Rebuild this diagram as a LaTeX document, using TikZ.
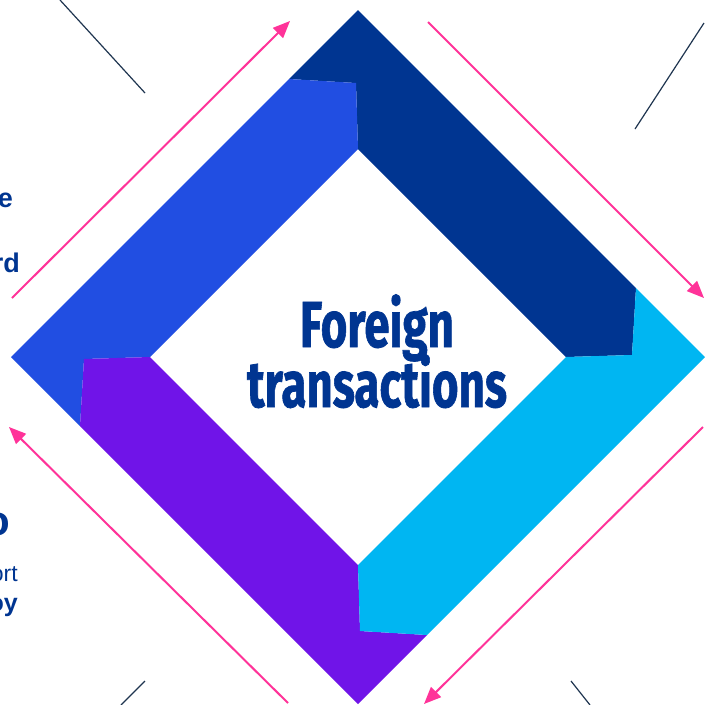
\documentclass[tikz,border=0pt]{standalone}
\usepackage{fontspec}
\setmainfont{Liberation Sans}
\newfontfamily\titlefont{Fira Sans}[BoldFeatures={FakeBold=1.2}]
\usetikzlibrary{arrows.meta}
\definecolor{navy}{HTML}{003591}
\definecolor{royal}{HTML}{214EE2}
\definecolor{violet}{HTML}{7014E8}
\definecolor{sky}{HTML}{00B6F2}
\definecolor{hotpink}{HTML}{FF3399}
\definecolor{slate}{HTML}{1F3550}
\newlength{\tlen}
\newcommand{\titlesize}{\titlefont\fontsize{65}{65}\selectfont\bfseries}
\begin{document}
\settowidth{\tlen}{\titlesize transactions}%
\pgfmathsetmacro\tsx{260/\tlen}%
\begin{tikzpicture}[x=1pt,y=-1pt,
  flow/.style={hotpink, line width=2pt, -{Triangle[length=17pt,width=14pt]}},
  accent/.style={slate, line width=1.2pt},
  frag/.style={navy, inner sep=0pt, anchor=base east},
  titletext/.style={navy, inner sep=0pt, anchor=base}]
\useasboundingbox (0,0) rectangle (705,705);
\fill[white] (0,0) rectangle (705,705);

% four bands of the frame, one polygon turned a quarter at a time
\begin{scope}[shift={(358,357)}]
  \fill[navy] (-69,-278) -- (0,-347) -- (278,-69) -- (274,-2) -- (208,0) -- (0,-208) -- (-2,-274) -- cycle;
\end{scope}
\begin{scope}[shift={(358,357)}, rotate=90]
  \fill[royal] (-69,-278) -- (0,-347) -- (278,-69) -- (274,-2) -- (208,0) -- (0,-208) -- (-2,-274) -- cycle;
\end{scope}
\begin{scope}[shift={(358,357)}, rotate=180]
  \fill[violet] (-69,-278) -- (0,-347) -- (278,-69) -- (274,-2) -- (208,0) -- (0,-208) -- (-2,-274) -- cycle;
\end{scope}
\begin{scope}[shift={(358,357)}, rotate=270]
  \fill[sky] (-69,-278) -- (0,-347) -- (278,-69) -- (274,-2) -- (208,0) -- (0,-208) -- (-2,-274) -- cycle;
\end{scope}

% title
\node[titletext] (title1) at (377,347) {\scalebox{\tsx}[1]{\titlesize Foreign}};
\node[titletext] (title2) at (377,407) {\scalebox{\tsx}[1]{\titlesize transactions}};

% circulation arrows
\coordinate (a1s) at (12,298);  \coordinate (a1e) at (290,21);
\coordinate (a2s) at (428,22);  \coordinate (a2e) at (704,298);
\coordinate (a3s) at (703,427); \coordinate (a3e) at (424,704);
\coordinate (a4s) at (288,703); \coordinate (a4e) at (9,427);
\draw[flow] (a1s) -- (a1e);
\draw[flow] (a2s) -- (a2e);
\draw[flow] (a3s) -- (a3e);
\draw[flow] (a4s) -- (a4e);

% thin accent strokes
\coordinate (l1a) at (60,0);    \coordinate (l1b) at (145,93);
\coordinate (l2a) at (704,23);  \coordinate (l2b) at (635,129);
\coordinate (l3a) at (145,681); \coordinate (l3b) at (121,705);
\coordinate (l4a) at (571,681); \coordinate (l4b) at (590,705);
\draw[accent] (l1a) -- (l1b);
\draw[accent] (l2a) -- (l2b);
\draw[accent] (l3a) -- (l3b);
\draw[accent] (l4a) -- (l4b);

% text running in from the left edge
\node[frag, font=\fontsize{27}{27}\selectfont\bfseries] (f1) at (13,207) {e};
\node[frag, font=\fontsize{27}{27}\selectfont\bfseries] (f2) at (20,272) {rd};
\node[frag, font=\fontsize{42}{42}\selectfont\bfseries] (f3) at (10,535) {o};
\node[frag, font=\fontsize{23}{23}\selectfont] (f4) at (18,581) {ort};
\node[frag, font=\fontsize{25}{25}\selectfont\bfseries] (f5) at (18,611) {oy};
\end{tikzpicture}
\end{document}
